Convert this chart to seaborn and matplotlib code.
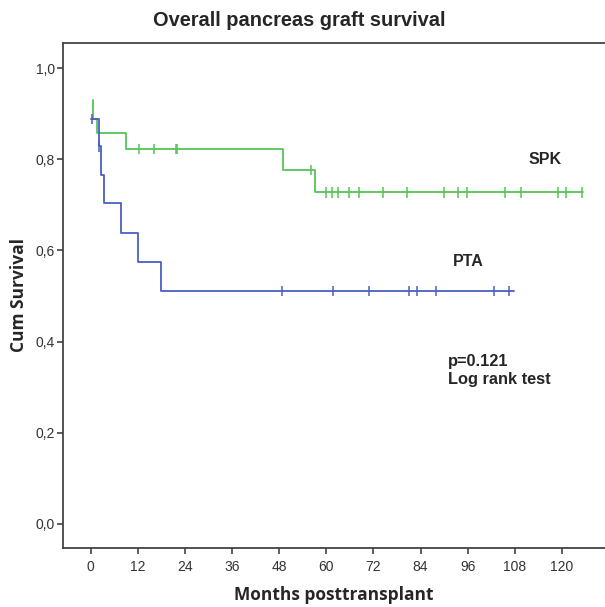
import numpy as np
import pandas as pd
import seaborn as sns
import matplotlib.pyplot as plt

# Kaplan-Meier step values (months, cumulative survival)
spk_times = [0.5, 0.6, 1.5, 9.0, 48.9, 57.1, 125.5]
spk_surv = [0.930, 0.889, 0.857, 0.822, 0.776, 0.727, 0.727]
spk_censored = [12.2, 16.0, 21.7, 21.9, 56.1, 59.9, 61.4, 62.9, 65.9, 68.4, 74.5,
                80.5, 90.1, 93.6, 95.9, 105.6, 109.5, 119.1, 121.1, 125.2]

pta_times = [0.0, 2.0, 2.5, 3.4, 7.6, 12.1, 18.0, 107.7]
pta_surv = [0.888, 0.828, 0.765, 0.704, 0.639, 0.575, 0.511, 0.511]
pta_censored = [0.4, 2.1, 48.7, 61.7, 71.0, 81.1, 83.0, 88.0, 102.6, 106.5]

x_ticks = [0, 12, 24, 36, 48, 60, 72, 84, 96, 108, 120]
y_ticks = [0.0, 0.2, 0.4, 0.6, 0.8, 1.0]

colors = {"SPK": "#55c455", "PTA": "#4a5fc4"}


def step_value(times, surv, t):
    # survival level of a step curve at time t
    idx = np.searchsorted(times, t, side="right") - 1
    return surv[max(idx, 0)]


curves = pd.concat([
    pd.DataFrame({"month": spk_times, "surv": spk_surv, "group": "SPK"}),
    pd.DataFrame({"month": pta_times, "surv": pta_surv, "group": "PTA"}),
])
marks = pd.concat([
    pd.DataFrame({"month": spk_censored,
                  "surv": [step_value(spk_times, spk_surv, t) for t in spk_censored],
                  "group": "SPK"}),
    pd.DataFrame({"month": pta_censored,
                  "surv": [step_value(pta_times, pta_surv, t) for t in pta_censored],
                  "group": "PTA"}),
])

sns.set_style("white")
plt.rcParams['font.family'] = ['Liberation Sans', 'DejaVu Sans']

fig = plt.figure(figsize=(6.05, 6.07), dpi=100)
ax = fig.add_axes([0.1046, 0.0972, 0.8954, 0.832])

sns.lineplot(data=curves, x="month", y="surv", hue="group", palette=colors,
             estimator=None, sort=False, drawstyle="steps-post", linewidth=1.3,
             legend=False, ax=ax)
sns.scatterplot(data=marks, x="month", y="surv", hue="group", palette=colors,
                marker="|", s=55, linewidth=1.1, legend=False, ax=ax, zorder=3)

ax.set_xlim(-7, 131)
ax.set_ylim(-0.053, 1.055)
ax.set_xticks(x_ticks)
ax.set_yticks(y_ticks)
ax.set_yticklabels([f"{v:.1f}".replace(".", ",") for v in y_ticks])
ax.tick_params(axis="both", direction="out", length=4, width=1.1,
               labelsize=10, color="#333333", labelcolor="#333333")
ax.tick_params(axis="x", bottom=True, pad=5)
ax.tick_params(axis="y", left=True, pad=2)

for side in ["left", "bottom", "top"]:
    ax.spines[side].set_color("#444444")
    ax.spines[side].set_linewidth(1.3)
ax.spines["right"].set_visible(False)

ax.set_xlabel("Months posttransplant", fontsize=12.5, fontweight="bold",
              family=["Open Sans", "DejaVu Sans"], va="center", ha="center")
ax.set_ylabel("Cum Survival", fontsize=12.5, fontweight="bold",
              family=["Open Sans", "DejaVu Sans"], va="center", ha="center")
ax.xaxis.set_label_coords(0.5, -0.093)
ax.yaxis.set_label_coords(-0.082, 0.501)

fig.text(0.494, 0.967, "Overall pancreas graft survival", ha="center", va="center",
         fontsize=14.4, fontweight="bold")

ax.text(111.4, 0.80, "SPK", fontsize=11.5, fontweight="bold", va="center")
ax.text(92.2, 0.575, "PTA", fontsize=11.5, fontweight="bold", va="center")
ax.text(90.9, 0.357, "p=0.121", fontsize=11.8, fontweight="bold", va="center")
ax.text(90.9, 0.316, "Log rank test", fontsize=11.8, fontweight="bold", va="center")

fig.savefig("out.png", dpi=100)
